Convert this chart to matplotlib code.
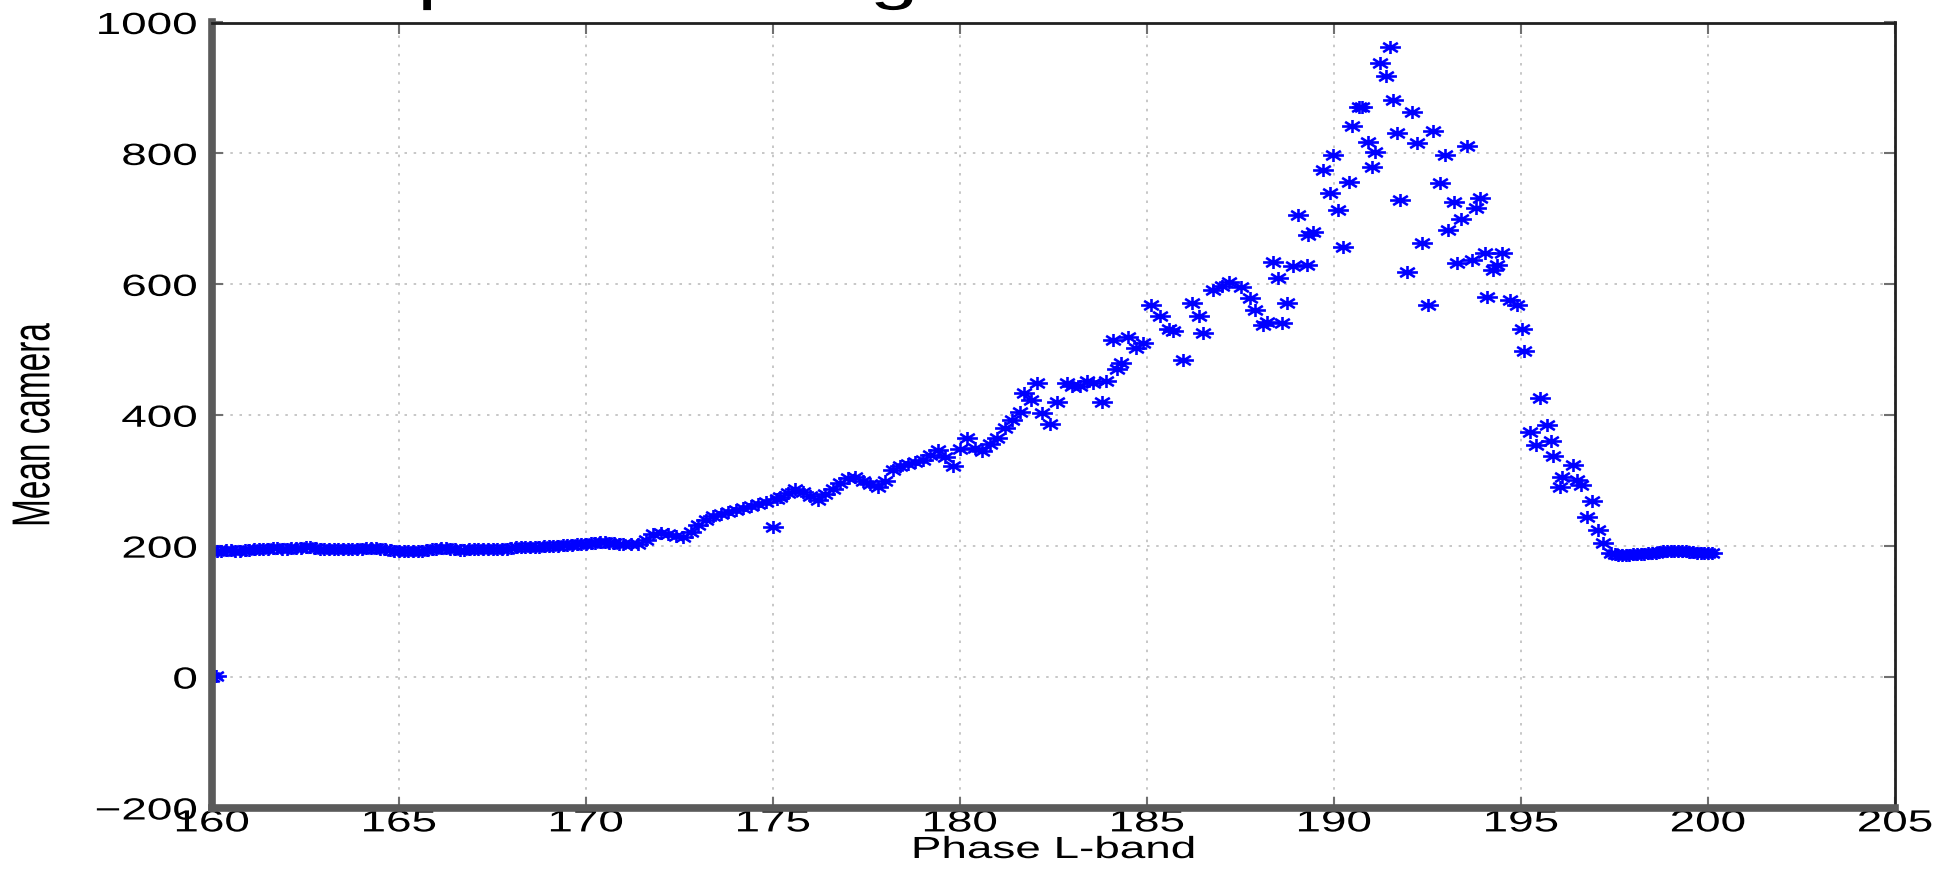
import matplotlib
matplotlib.use("Agg")
import matplotlib.pyplot as plt
from matplotlib.path import Path
from matplotlib.transforms import Affine2D
from matplotlib.patheffects import AbstractPathEffect

# ---------------- data ----------------
phase_zero = [160.0, 160.1]
camera_zero = [0, 1]

phase_flat = [160.00, 160.25, 160.50, 160.75, 161.00, 161.25, 161.50, 161.75,
              162.00, 162.25, 162.50, 162.75, 163.00, 163.25, 163.50, 163.75,
              164.00, 164.25, 164.50, 164.75, 165.00, 165.25, 165.50, 165.75,
              166.00, 166.25, 166.50, 166.75, 167.00, 167.25, 167.50, 167.75,
              168.00, 168.25, 168.50, 168.75, 169.00, 169.25, 169.50, 169.75,
              170.00, 170.25, 170.50, 170.75, 171.00]
camera_flat = [192, 193, 194, 193, 194, 195, 196, 197,
               196, 197, 198, 197, 196, 195, 196, 195,
               196, 197, 196, 194, 193, 192, 193, 194,
               196, 197, 195, 194, 195, 196, 195, 196,
               197, 198, 198, 199, 200, 201, 202, 203,
               204, 205, 206, 205, 204]

phase_flat2 = [160.125, 160.375, 160.625, 160.875, 161.125, 161.375, 161.625,
               161.875, 162.125, 162.375, 162.625, 162.875, 163.125, 163.375,
               163.625, 163.875, 164.125, 164.375, 164.625, 164.875, 165.125,
               165.375, 165.625, 165.875, 166.125, 166.375, 166.625, 166.875,
               167.125, 167.375, 167.625, 167.875, 168.125, 168.375, 168.625,
               168.875, 169.125, 169.375, 169.625, 169.875, 170.125, 170.375,
               170.625, 170.875]
camera_flat2 = [193, 194, 193, 194, 195, 195, 197, 196, 197, 197,
                198, 196, 196, 195, 195, 196, 197, 197, 195, 193,
                192, 193, 193, 195, 197, 196, 194, 195, 196, 195,
                196, 196, 198, 198, 199, 200, 201, 202, 202, 204,
                205, 206, 205, 204]

phase_rise = [171.2, 171.4, 171.6, 171.8, 172.0, 172.2, 172.4, 172.6, 172.8,
              173.0, 173.2, 173.4, 173.6, 173.8, 174.0, 174.2, 174.4, 174.6,
              174.8, 175.0, 175.1, 175.2, 175.4, 175.6, 175.8, 176.0, 176.2,
              176.4, 176.6, 176.8, 177.0, 177.2, 177.4, 177.6, 177.8, 178.0,
              178.2, 178.4, 178.6, 178.8, 179.0, 179.2, 179.4, 179.6, 179.8,
              180.0, 180.2, 180.4, 180.6, 180.8, 181.0, 181.2, 181.4, 181.6,
              181.7, 181.9, 182.05, 182.2, 182.4, 182.6, 182.85, 183.0, 183.2,
              183.4, 183.55, 183.8, 183.9, 184.1, 184.2, 184.3, 184.5, 184.7,
              184.9, 185.1, 185.35, 185.6, 185.7, 185.97, 186.2, 186.4, 186.5,
              186.77, 187.0, 187.2, 187.5, 187.75, 187.9, 188.1, 188.2, 188.37,
              188.5, 188.6, 188.74, 188.9]
camera_rise = [203, 203, 210, 218, 220, 219, 216, 214, 222,
               232, 240, 246, 249, 252, 256, 258, 262, 265,
               268, 230, 272, 275, 281, 287, 283, 276, 270,
               279, 288, 296, 304, 306, 300, 295, 291, 300,
               316, 322, 325, 328, 332, 340, 347, 336, 322,
               348, 366, 350, 345, 356, 365, 380, 392, 405,
               434, 424, 450, 404, 386, 420, 450, 445, 444,
               452, 450, 421, 452, 515, 470, 480, 520, 503,
               510, 569, 551, 531, 528, 485, 572, 551, 526,
               592, 598, 604, 596, 579, 561, 538, 543, 634,
               610, 541, 572, 628]

phase_peak = [189.04, 189.28, 189.3, 189.44, 189.7, 189.9, 189.98, 190.1,
              190.24, 190.41, 190.48, 190.67, 190.75, 190.9, 191.02, 191.1,
              191.23, 191.39, 191.5, 191.58, 191.68, 191.76, 191.95, 192.08,
              192.21, 192.35, 192.5, 192.64, 192.83, 192.97, 193.05, 193.2,
              193.3, 193.4, 193.56, 193.7, 193.8, 193.9, 194.05, 194.1,
              194.25, 194.35, 194.5, 194.7, 194.9, 195.03, 195.08, 195.25,
              195.4, 195.5, 195.7, 195.8, 195.85, 196.05, 196.1, 196.4,
              196.5, 196.6, 196.76, 196.9, 197.05, 197.2, 197.4]
camera_peak = [706, 630, 675, 680, 775, 740, 797, 714,
               657, 757, 842, 871, 871, 818, 780, 802,
               938, 918, 963, 882, 831, 729, 619, 863,
               816, 663, 569, 835, 755, 798, 683, 726,
               633, 700, 812, 637, 716, 732, 648, 581,
               622, 630, 648, 576, 569, 531, 498, 375,
               355, 427, 385, 360, 338, 291, 306, 324,
               301, 294, 245, 269, 225, 205, 190]

phase_tail = [197.5, 197.6, 197.7, 197.8, 197.9, 198.0, 198.1, 198.2, 198.3,
              198.4, 198.5, 198.6, 198.7, 198.8, 198.9, 199.0, 199.1, 199.2,
              199.3, 199.4, 199.5, 199.6, 199.7, 199.8, 199.9, 200.0, 200.1]
camera_tail = [188, 187, 187, 187, 187, 188, 188, 188, 188,
               189, 189, 190, 191, 192, 193, 193, 193, 193,
               192, 192, 191, 191, 190, 190, 190, 189, 189]

x_ticks = [160, 165, 170, 175, 180, 185, 190, 195, 200, 205]
y_ticks = [-200, 0, 200, 400, 600, 800, 1000]
x_label = "Phase L-band"
y_label = "Mean camera"
title_text = "L-band phase tuning"

phase = (phase_zero + phase_flat + phase_flat2 + phase_rise + phase_peak
         + phase_tail)
camera = (camera_zero + camera_flat + camera_flat2 + camera_rise + camera_peak
          + camera_tail)


# ---------------- helpers ----------------
class HStretch(AbstractPathEffect):
    """Widen text horizontally (the reference was stretched sideways)."""
    def __init__(self, sx=1.5, anchor="center"):
        super().__init__()
        self.sx = sx
        self.anchor = anchor

    def draw_path(self, renderer, gc, tpath, affine, rgbFace=None):
        if len(tpath.vertices) == 0:
            return
        ext = tpath.get_extents(affine)
        if self.anchor == "left":
            x0 = ext.x0
        elif self.anchor == "right":
            x0 = ext.x1
        else:
            x0 = 0.5 * (ext.x0 + ext.x1)
        new = affine + Affine2D().translate(-x0, 0).scale(self.sx, 1.0).translate(x0, 0)
        renderer.draw_path(gc, tpath, new, rgbFace)


s, d = 1.6, 0.707
asterisk = Path([(-s, 0), (s, 0), (0, -1), (0, 1),
                 (-s * d, -d), (s * d, d), (-s * d, d), (s * d, -d)],
                [Path.MOVETO, Path.LINETO] * 4)

plt.rcParams["font.family"] = ["Liberation Sans", "DejaVu Sans"]

W, H = 1940, 881
fig = plt.figure(figsize=(W / 100, H / 100), dpi=100)
L, R, T, B = 212, 1895, 22.5, 808
ax = fig.add_axes([L / W, 1 - B / H, (R - L) / W, (B - T) / H])

ax.plot(phase, camera, linestyle="none", marker=asterisk, ms=15, mew=1.9,
        mec="#0000ff", mfc="none")

ax.set_xlim(160, 205)
ax.set_ylim(-200, 1000)
ax.set_xticks(x_ticks)
ax.set_yticks(y_ticks)
ax.grid(True, linestyle=(0, (1.5, 4)), color="#bdbdbd", linewidth=1.2)
ax.set_axisbelow(True)

ax.tick_params(axis="both", direction="in", length=8, width=1.5, color="#707070",
               top=True, right=True, labelsize=22, labelcolor="black")
ax.tick_params(axis="y", pad=10.5)
ax.tick_params(axis="x", pad=0.3)

for side in ("left", "bottom"):
    ax.spines[side].set_linewidth(5.5)
    ax.spines[side].set_color("#5a5a5a")
for side in ("top", "right"):
    ax.spines[side].set_linewidth(2)
    ax.spines[side].set_color("#202020")

ax.set_xlabel(x_label, fontsize=22)
ax.set_ylabel(y_label, fontsize=24)
ax.xaxis.set_label_coords(0.5, (31 - (H - B)) / (B - T))
ax.xaxis.label.set_verticalalignment("center")
ax.yaxis.set_label_coords((34 - L) / (R - L), ((H - 425) - (H - B)) / (B - T))
ax.yaxis.label.set_verticalalignment("center")
ax.yaxis.label.set_horizontalalignment("center")
ax.xaxis.label.set_path_effects([HStretch(1.5, "center")])
ax.yaxis.label.set_path_effects([HStretch(1.6, "center")])

fig.canvas.draw()
for t in ax.xaxis.get_major_ticks():
    t.label1.set_path_effects([HStretch(1.5, "center")])
for t in ax.yaxis.get_major_ticks():
    t.label1.set_path_effects([HStretch(1.5, "right")])

fig.text(123 / W, 1 + 2 / H, title_text, fontsize=42, ha="left", va="baseline",
         path_effects=[HStretch(1.5, "left")])

fig.savefig("out.png", dpi=100)
